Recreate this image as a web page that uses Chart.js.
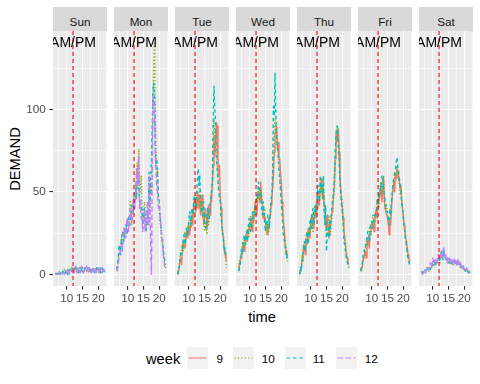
<!DOCTYPE html>
<html>
<head>
<meta charset="utf-8">
<script src="https://cdn.jsdelivr.net/npm/chart.js@4.4.1/dist/chart.umd.min.js"></script>
<style>
  body { margin: 0; background: #fff; }
  #wrap { position: relative; width: 480px; height: 384px; overflow: hidden; font-family: "Liberation Sans", Arial, sans-serif; }
  .strip { position: absolute; top: 7px; height: 24px; width: 54px; background: #D9D9D9; }
  .strip span { position: absolute; left: 0; right: 0; top: 2.5px; line-height: 24px; text-align: center; font-size: 11.7px; color: #1A1A1A; }
  canvas { position: absolute; top: 31px; }
  .title { position: absolute; font-size: 14.7px; line-height: 20px; color: #000; white-space: nowrap; }
  .lab { position: absolute; font-size: 11.7px; line-height: 20px; color: #000; }
  .key { position: absolute; top: 347px; }
</style>
</head>
<body>
<div id="wrap">
  <div class="title" style="left:-35px; top:148.5px; width:100px; text-align:center; transform:rotate(-90deg);">DEMAND</div>
  <div class="title" style="left:212px; top:306.6px; width:100px; text-align:center;">time</div>
  <div id="legend"></div>
</div>
<script>
const days = ["Sun", "Mon", "Tue", "Wed", "Thu", "Fri", "Sat"];
const weeks = ["9", "10", "11", "12"];
const times = [6.5,6.75,7,7.25,7.5,7.75,8,8.25,8.5,8.75,9,9.25,9.5,9.75,10,10.25,
               10.5,10.75,11,11.25,11.5,11.75,12,12.25,12.5,12.75,13,13.25,13.5,13.75,14,14.25,
               14.5,14.75,15,15.25,15.5,15.75,16,16.25,16.5,16.75,17,17.25,17.5,17.75,18,18.25,
               18.5,18.75,19,19.25,19.5,19.75,20,20.25,20.5,20.75,21,21.25,21.5,21.75,22];

// demand per day and week, every 15 min (week 9 starts on Tue, week 12 covers Sat-Mon)
const sun10 = [0,1,0,0,1,2,0,1,1,0,1,3,2,0,1,3, 2,1,2,4,3,5,4,1,3,4,2,1,3,2,4,1, 2,4,3,1,2,3,4,2,3,1,2,4,3,1,2,3, 4,2,3,4,2,3,3,1,2,4,3,2,2,3,2];
const sun11 = [1,0,0,1,0,0,1,0,0,2,1,0,1,3,2,0, 1,3,2,1,2,4,3,1,4,2,2,4,3,1,2,4, 4,2,3,1,2,4,3,2,2,4,4,2,3,1,2,4, 3,1,2,3,4,2,2,4,3,1,2,4,3,1,2];
const sun12 = [0,0,0,1,0,0,0,0,0,1,1,0,0,2,1,3, 2,0,1,3,2,4,3,1,2,5,4,1,2,4,3,1, 2,5,4,1,2,3,3,5,4,1,2,4,3,1,2,4, 3,2,4,1,2,4,3,1,2,4,3,1,2,3,1];

const mon10 = [4,2,8,12,14,20,22,16,18,26,28,22,26,32,34,28, 32,44,40,30,36,46,48,42,56,46,68,54,76,48,50,60, 44,34,36,44,40,28,30,38,36,30,34,56,48,80,110,128, 140,96,72,60,64,48,40,30,26,20,18,12,10,6,4];
const mon11 = [3,6,10,18,16,12,20,26,24,20,22,30,30,24,28,34, 36,30,34,42,42,38,46,50,52,46,54,60,52,44,46,38, 40,30,32,40,36,26,28,36,34,62,40,56,70,90,112,116, 108,74,66,70,56,46,44,34,28,24,22,14,12,8,6];
const mon12 = [2,3,6,10,12,16,18,14,22,28,26,22,24,34,32,26, 30,40,38,32,34,46,44,40,48,64,58,54,72,40,46,34, 34,26,30,38,26,32,36,44,30,60,40,20,0,60,108,104, 96,70,60,52,48,40,42,36,30,24,20,12,8,4,4];

const tue9  = [0,2,4,8,10,6,14,20,20,16,18,26,26,22,30,24, 28,34,36,30,40,46,44,38,42,50,46,40,48,36,44,48, 38,30,34,40,36,28,30,42,40,36,48,44,56,66,84,72, 78,92,90,70,60,66,46,40,30,24,22,14,12,10,8];
const tue10 = [2,0,6,10,12,18,18,14,22,26,20,24,24,30,28,36, 34,28,32,40,38,34,42,48,48,40,44,52,50,38,40,44, 34,38,26,32,30,24,36,30,32,40,44,50,52,78,94,82, 86,76,70,60,56,50,48,40,32,26,24,16,14,8,4];
const tue11 = [0,4,4,10,14,12,16,22,24,18,22,28,28,24,32,38, 36,30,40,36,42,48,46,40,50,58,64,54,60,46,42,36, 36,44,32,28,28,36,40,34,34,44,46,52,56,96,114,100, 92,70,64,56,50,46,44,34,28,24,20,14,16,12,10];

const wed9  = [2,6,8,10,12,16,18,14,20,24,22,20,26,30,28,34, 30,26,36,32,38,44,40,36,44,50,48,44,56,46,42,34, 36,32,34,28,30,24,28,34,36,42,46,52,60,74,84,88, 90,76,80,72,70,62,56,44,38,30,26,18,14,12,10];
const wed10 = [4,8,10,12,14,20,16,22,22,18,24,28,26,22,30,36, 34,28,32,38,40,36,42,48,46,52,50,44,52,48,44,38, 34,40,30,24,32,28,26,32,34,40,44,56,70,82,94,90, 88,80,76,66,60,54,50,42,34,28,24,20,16,10,8];
const wed11 = [2,4,6,14,16,12,20,24,18,22,26,20,28,34,32,26, 30,36,38,34,36,42,44,48,46,56,54,48,50,40,36,44, 40,30,26,32,30,36,34,28,40,46,48,62,102,96,122,98, 84,78,72,64,58,50,44,36,28,22,20,16,12,10,14];

const thu9  = [0,2,4,8,10,18,16,12,22,18,20,28,26,22,30,36, 34,28,32,38,38,34,40,48,46,42,52,56,58,46,50,42, 40,32,28,36,30,22,26,30,34,38,42,48,54,70,86,80, 84,88,74,60,52,46,40,34,28,22,18,12,10,8,6];
const thu10 = [2,4,6,12,8,16,18,14,20,26,24,20,28,24,32,36, 30,26,36,42,40,36,44,50,48,44,56,50,52,46,58,40, 34,28,24,30,32,36,28,24,30,36,40,46,52,66,80,84, 90,82,78,62,50,48,44,34,26,22,20,14,12,8,4];
const thu11 = [0,4,2,8,12,16,20,14,22,26,24,18,26,32,34,28, 36,40,30,36,42,38,46,54,50,44,60,52,54,48,60,38, 30,42,14,26,28,22,32,28,36,42,46,52,60,76,84,90, 88,76,70,56,48,42,38,30,20,18,14,10,8,6,4];

const fri9  = [2,4,4,8,8,12,14,10,18,22,20,16,24,28,28,32, 30,26,34,38,38,34,42,48,46,52,50,44,52,58,44,40, 40,36,34,30,24,32,30,40,48,52,56,50,60,58,64,62, 60,56,52,54,44,40,36,30,28,22,20,16,12,10,8];
const fri10 = [4,2,6,10,10,14,16,20,20,18,22,28,26,24,30,36, 34,30,32,38,40,46,44,40,50,56,56,48,54,60,46,40, 38,42,36,32,30,34,34,44,46,52,54,58,62,60,66,64, 58,54,48,52,46,40,34,28,24,20,18,14,12,8,6];
const fri11 = [2,4,6,12,12,16,16,20,22,26,24,20,28,32,32,28, 30,36,36,34,40,46,44,50,48,54,52,60,58,52,48,44, 42,38,38,34,30,40,36,44,50,56,58,62,64,68,71,66, 62,58,54,50,42,40,34,28,26,20,18,12,10,8,6];

const sat10 = [1,2,2,1,2,3,3,5,4,2,3,4,5,4,6,8, 5,7,7,6,8,10,9,7,10,13,12,10,14,12,11,9, 9,10,8,6,7,9,8,6,6,8,7,9,8,6,6,8, 7,4,5,6,4,3,3,4,3,2,2,3,2,1,1];
const sat11 = [2,1,1,2,3,2,4,3,3,5,5,3,4,6,6,5, 7,9,6,8,8,11,10,8,12,14,11,9,15,12,10,8, 8,10,7,9,9,7,6,8,8,6,7,9,6,7,8,6, 5,6,4,3,3,5,4,2,2,3,3,1,1,2,2];
const sat12 = [1,0,2,3,3,1,2,4,4,3,5,7,6,4,10,8, 7,9,8,6,9,12,11,9,13,10,12,14,16,11,9,12, 10,7,8,10,7,9,9,6,8,10,6,8,7,5,9,7, 6,8,5,3,4,5,3,2,2,4,3,2,2,1,1];

const xTicks = [10, 15, 20];
const xMinor = [7.5, 12.5, 17.5, 22.5];
const yTicks = [0, 50, 100];
const yMinor = [25, 75, 125];
const amPmTime = 12;
const amPmLabel = "AM/PM";
const amPmY = 140;

// weeks 9, 10, 11, 12 for each day (null = no data that week)
const byDay = [
  [null, sun10, sun11, sun12],
  [null, mon10, mon11, mon12],
  [tue9, tue10, tue11, null],
  [wed9, wed10, wed11, null],
  [thu9, thu10, thu11, null],
  [fri9, fri10, fri11, null],
  [null, sat10, sat11, sat12]
];

const colors = ["#F8766D", "#7CAE00", "#00BFC4", "#C77CFF"];
const dashes = [[], [1.2, 2.2], [3.5, 3], [5.5, 2.5]];
const fontFamily = '"Liberation Sans", Arial, sans-serif';

const wrap = document.getElementById("wrap");

const panelPlugin = {
  id: "panel",
  beforeDraw(chart) {
    const { ctx, chartArea: a } = chart;
    ctx.save();
    ctx.fillStyle = "#EBEBEB";
    ctx.fillRect(a.left, a.top, a.width, a.height);
    ctx.restore();
  },
  afterDatasetsDraw(chart) {
    const { ctx, chartArea: a, scales } = chart;
    const px = scales.x.getPixelForValue(amPmTime);
    ctx.save();
    ctx.beginPath();
    ctx.rect(a.left, a.top, a.width, a.height);
    ctx.clip();
    ctx.strokeStyle = "#FF0000";
    ctx.lineWidth = 1.1;
    ctx.setLineDash([4, 3]);
    ctx.beginPath();
    ctx.moveTo(px, a.top);
    ctx.lineTo(px, a.bottom);
    ctx.stroke();
    ctx.setLineDash([]);
    ctx.fillStyle = "#000";
    ctx.font = "14px " + fontFamily;
    ctx.textAlign = "center";
    ctx.textBaseline = "middle";
    ctx.fillText(amPmLabel, px, scales.y.getPixelForValue(amPmY));
    ctx.restore();
  }
};

function makePanel(d) {
  const first = d === 0;
  const axisW = first ? 53 : 0;
  const left = 53 + d * 61;

  const strip = document.createElement("div");
  strip.className = "strip";
  strip.style.left = left + "px";
  strip.innerHTML = "<span>" + days[d] + "</span>";
  wrap.appendChild(strip);

  const canvas = document.createElement("canvas");
  canvas.width = 54 + axisW;
  canvas.height = 279;
  canvas.style.left = (left - axisW) + "px";
  wrap.appendChild(canvas);

  const datasets = [];
  byDay[d].forEach((vals, w) => {
    if (!vals) return;
    datasets.push({
      label: weeks[w],
      data: vals.map((v, i) => ({ x: times[i], y: v })),
      borderColor: colors[w],
      borderDash: dashes[w],
      borderWidth: 1.4,
      order: 4 - w
    });
  });

  new Chart(canvas, {
    type: "line",
    data: { datasets: datasets },
    options: {
      responsive: false,
      animation: false,
      devicePixelRatio: 1,
      layout: { padding: 0 },
      plugins: { legend: { display: false }, tooltip: { enabled: false } },
      elements: {
        point: { radius: 0 },
        line: { tension: 0, borderJoinStyle: "round" }
      },
      scales: {
        x: {
          type: "linear",
          min: 5.65,
          max: 22.75,
          afterBuildTicks: s => { s.ticks = xTicks.concat(xMinor).sort((a, b) => a - b).map(v => ({ value: v })); },
          afterFit: s => { s.height = 24; s.paddingLeft = 0; s.paddingRight = 0; },
          ticks: {
            autoSkip: false, maxRotation: 0, padding: 2,
            color: "#4D4D4D", font: { family: fontFamily, size: 11.7 },
            callback: v => xTicks.includes(v) ? String(v) : ""
          },
          grid: {
            color: "#FFFFFF",
            lineWidth: c => xTicks.includes(c.tick.value) ? 1.1 : 0.55,
            tickLength: 3.7,
            tickWidth: 1.1,
            tickColor: c => xTicks.includes(c.tick.value) ? "#333333" : "rgba(0,0,0,0)"
          },
          border: { display: false }
        },
        y: {
          min: -7.02,
          max: 147.5,
          afterBuildTicks: s => { s.ticks = yTicks.concat(yMinor).sort((a, b) => a - b).map(v => ({ value: v })); },
          afterFit: s => { s.width = axisW; s.paddingTop = 0; s.paddingBottom = 0; },
          ticks: {
            display: first, padding: 3.5,
            color: "#4D4D4D", font: { family: fontFamily, size: 11.7 },
            callback: v => yTicks.includes(v) ? String(v) : ""
          },
          grid: {
            color: "#FFFFFF",
            lineWidth: c => yTicks.includes(c.tick.value) ? 1.1 : 0.55,
            drawTicks: first,
            tickLength: 3.7,
            tickWidth: 1.1,
            tickColor: c => yTicks.includes(c.tick.value) ? "#333333" : "rgba(0,0,0,0)"
          },
          border: { display: false }
        }
      }
    },
    plugins: [panelPlugin]
  });
}

days.forEach((_, d) => makePanel(d));

// legend
function drawLegend() {
  const legend = document.getElementById("legend");
  const keyLefts = [187, 233, 285, 336];
  const labLefts = [216.5, 261.7, 312.7, 364.7];
  let html = '<div class="title" style="left:146px; top:348.9px;">week</div>';
  weeks.forEach((w, i) => {
    const dash = dashes[i].length ? ' stroke-dasharray="' + dashes[i].join(",") + '"' : "";
    html += '<svg class="key" style="left:' + keyLefts[i] + 'px" width="21" height="22">' +
      '<rect x="0" y="0" width="21" height="22" fill="#F2F2F2"/>' +
      '<line x1="1.5" y1="11" x2="19.5" y2="11" stroke="' + colors[i] + '" stroke-width="1"' + dash + '/></svg>';
    html += '<div class="lab" style="left:' + labLefts[i] + 'px; top:349.2px;">' + w + '</div>';
  });
  legend.innerHTML = html;
}
drawLegend();
</script>
</body>
</html>
